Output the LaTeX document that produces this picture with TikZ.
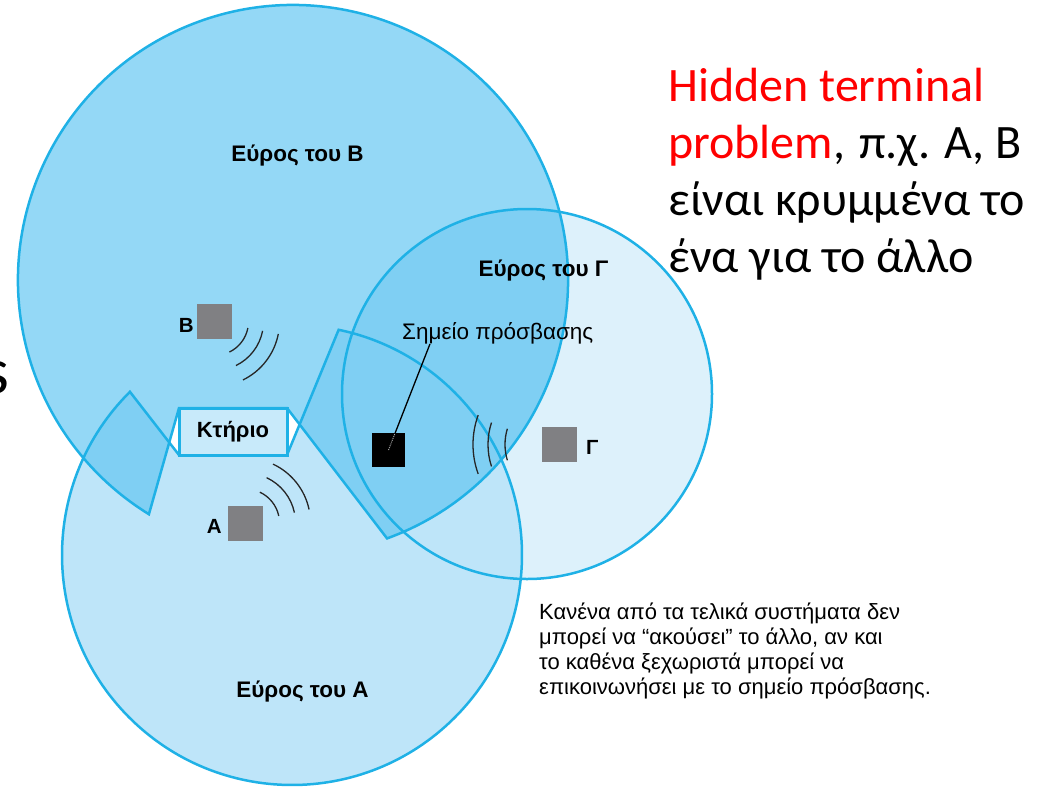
\documentclass[tikz,border=0pt]{standalone}
\usepackage{fontspec}
\newfontfamily\arialf{Liberation Sans}
\newfontfamily\calif{Carlito}
\usetikzlibrary{calc}

\definecolor{rangeA}{HTML}{BEE5F9}
\definecolor{rangeB}{HTML}{94D8F6}
\definecolor{rangeG}{HTML}{DDF1FB}
\definecolor{rangeAB}{HTML}{7FCFF3}
\definecolor{rim}{HTML}{1FB1E6}
\definecolor{bldfill}{HTML}{C8EAFA}
\definecolor{termgray}{HTML}{808083}

\tikzset{
  rimline/.style={draw=rim, line width=2.5pt, line join=miter},
  term/.style={fill=termgray, minimum width=35pt, minimum height=35pt, inner sep=0pt},
  apbox/.style={fill=black, minimum width=33pt, minimum height=34pt, inner sep=0pt},
  wave/.style={draw=black!85, line width=1.3pt},
  boldlbl/.style={inner sep=0pt, font=\arialf\bfseries\fontsize{22.5}{26}\selectfont},
  termlbl/.style={inner sep=0pt, font=\arialf\bfseries\fontsize{20.5}{24}\selectfont},
  plainlbl/.style={inner sep=0pt, font=\arialf\fontsize{22.5}{26}\selectfont},
  notelbl/.style={inner sep=0pt, anchor=base west, font=\arialf\fontsize{22}{25}\selectfont},
  slidelbl/.style={inner sep=0pt, anchor=base west, font=\calif\fontsize{48}{57}\selectfont},
  building/.style={draw=rim, line width=3pt, fill=bldfill, minimum width=108pt,
    minimum height=47pt, inner sep=0pt, font=\arialf\bfseries\fontsize{22}{25}\selectfont},
  leader/.style={draw=black, line width=1.3pt}
}

\begin{document}
\begin{tikzpicture}[x=1pt,y=1pt]
\useasboundingbox (0,0) rectangle (1040,-787);
\clip (0,0) rectangle (1040,-787);

% centres of the three ranges and the corners of the building
\coordinate (cA) at (292,-555);
\coordinate (cB) at (293,-280);
\coordinate (cG) at (527,-394);
\coordinate (BTL) at (179,-408);
\coordinate (BTR) at (287,-408);
\coordinate (BBL) at (179,-455);
\coordinate (BBR) at (287,-455);

% range of A: its circle minus the shadow above the building
\def\regionA{([shift={(134.8:230)}]cA) arc[start angle=134.8, end angle=438.3, radius=230] -- (BBR) -- (BBL) -- cycle}
% range of B: its circle minus the shadow below the building
\def\regionB{([shift={(-70:275)}]cB) arc[start angle=-70, end angle=238.4, radius=275] -- (BTL) -- (BTR) -- cycle}
\def\regionG{(cG) circle[radius=185]}

% fills
\fill[rangeG] \regionG;
\fill[rangeA] \regionA;
\fill[rangeB] \regionB;
\begin{scope}
  \clip \regionB;
  \fill[rangeAB] \regionA;
  \fill[rangeAB] \regionG;
\end{scope}

% outlines
\draw[rimline] \regionG;
\draw[rimline] \regionA;
\draw[rimline] \regionB;

% building
\node[building] (bld) at (233,-431.5) {Κτήριο};

% range labels
\node[boldlbl, anchor=base] (rngB) at (297.5,-161) {Εύρος του Β};
\node[boldlbl, anchor=base] (rngG) at (543.5,-276) {Εύρος του Γ};
\node[boldlbl, anchor=base] (rngA) at (302.5,-697) {Εύρος του Α};

% terminals
\node[term] (tB) at (214.5,-321.5) {};
\node[termlbl, anchor=base east] (lB) at (194,-332) {Β};
\node[term] (tA) at (245.5,-523) {};
\node[termlbl, anchor=base east] (lA) at (222,-533) {Α};
\node[term] (tG) at (559,-444.5) {};
\node[termlbl, anchor=base west] (lG) at (586,-454) {Γ};

% access point with its label and leader line
\node[plainlbl, anchor=base west] (apl) at (402,-339) {Σημείο πρόσβασης};
\draw[leader] ([xshift=28pt]apl.south west) -- (388.5,-450) coordinate (aptip);
\node[apbox] (ap) at (388.5,-450) {};
\draw[gray!70, line width=1pt, dash pattern=on 1pt off 1pt]
  (ap.center) -- ($(ap.center)!0.15!([xshift=28pt]apl.south west)$);

% radio waves
\foreach \r in {34,49,65}
  \draw[wave] ([shift={(-64:\r)}]tB.center) arc[start angle=-64, end angle=-11, radius=\r];
\foreach \r in {34,50,65}
  \draw[wave] ([shift={(12:\r)}]tA.center) arc[start angle=12, end angle=65, radius=\r];
\foreach \r/\a/\b in {54/163/197, 71/162/198, 86/160/200}
  \draw[wave] ([shift={(\a:\r)}]tG.center) arc[start angle=\a, end angle=\b, radius=\r];

% explanatory note
\node[notelbl] (n1) at (539,-619) {Κανένα από τα τελικά συστήματα δεν};
\node[notelbl] (n2) at (539,-644) {μπορεί να “ακούσει” το άλλο, αν και};
\node[notelbl] (n3) at (539,-669) {το καθένα ξεχωριστά μπορεί να};
\node[notelbl] (n4) at (539,-694) {επικοινωνήσει με το σημείο πρόσβασης.};

% slide text
\node[slidelbl] (h1) at (668,-101) {\textcolor{red}{Hidden terminal}};
\node[slidelbl] (h2) at (668,-158) {\textcolor{red}{problem},\hspace{14pt}π.χ. Α, Β};
\node[slidelbl] (h3) at (668,-215) {είναι κρυμμένα το};
\node[slidelbl] (h4) at (668,-272) {ένα για το άλλο};
\node[inner sep=0pt, anchor=base east, font=\calif\fontsize{66}{70}\selectfont] (sfrag) at (10,-393) {s};
\end{tikzpicture}
\end{document}
